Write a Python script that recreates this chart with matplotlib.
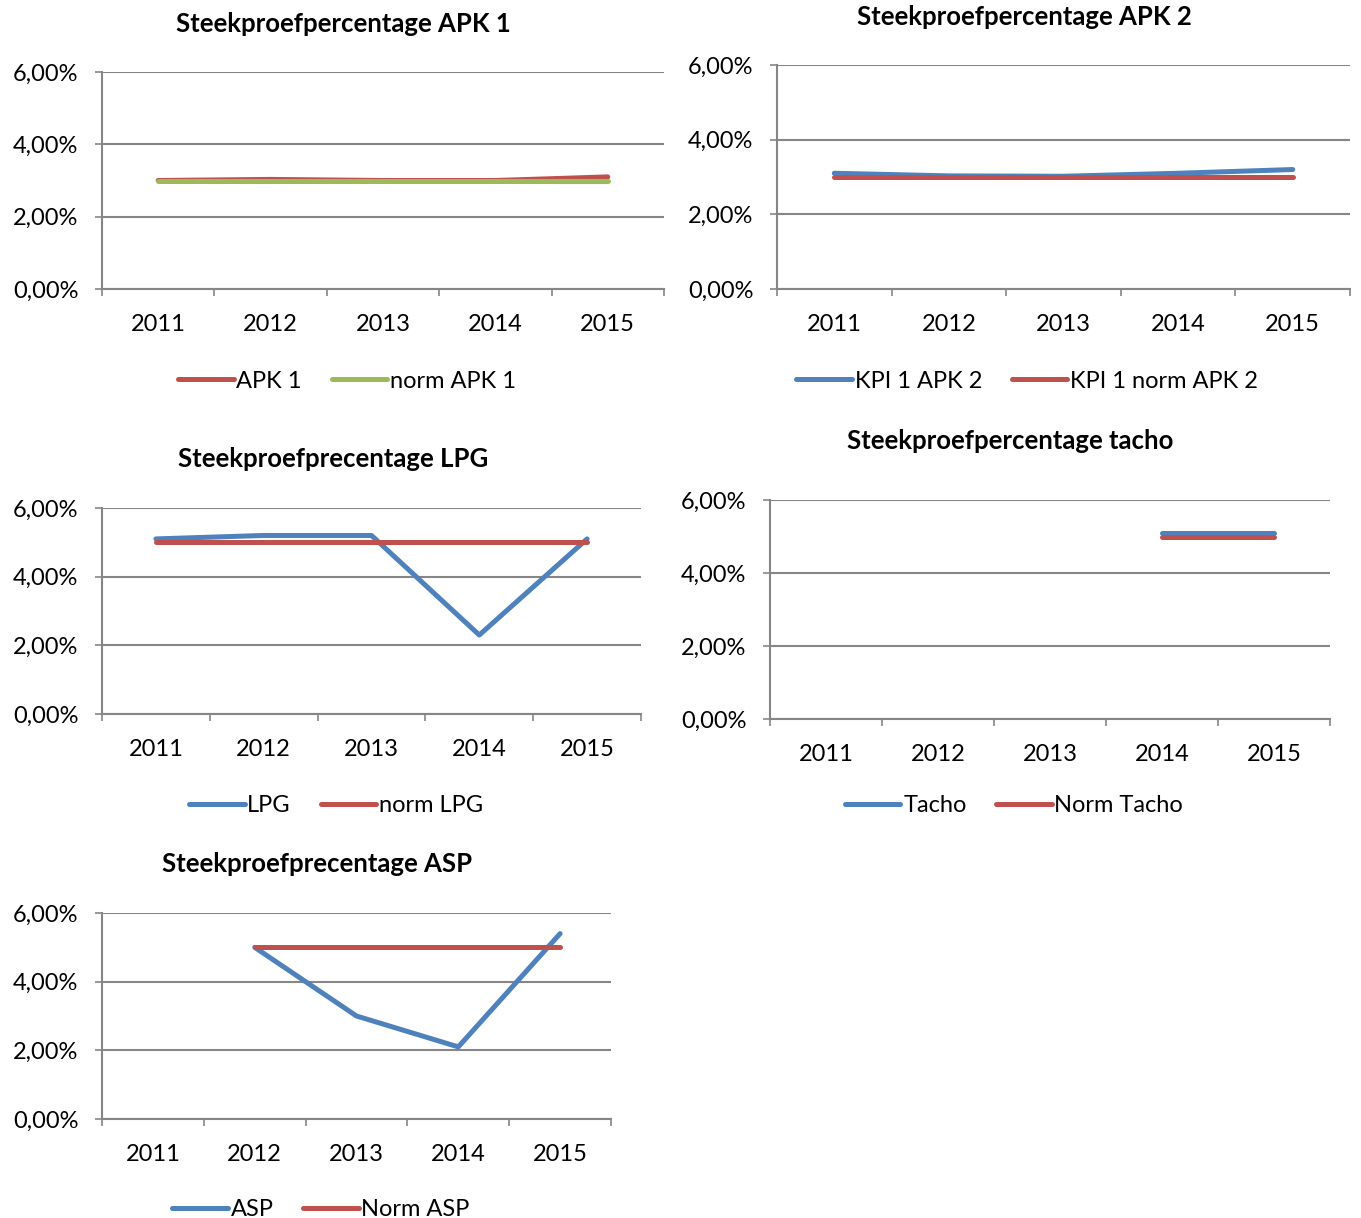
import numpy as np
import matplotlib.pyplot as plt
from matplotlib.lines import Line2D

plt.rcParams['font.family'] = ['Lato', 'DejaVu Sans']

years = ["2011", "2012", "2013", "2014", "2015"]

apk1 = [3.0, 3.03, 3.0, 3.0, 3.1]
norm_apk1 = [3.0, 3.0, 3.0, 3.0, 3.0]

kpi1_apk2 = [3.1, 3.03, 3.02, 3.1, 3.2]
kpi1_norm_apk2 = [3.0, 3.0, 3.0, 3.0, 3.0]

lpg = [5.1, 5.2, 5.2, 2.3, 5.1]
norm_lpg = [5.0, 5.0, 5.0, 5.0, 5.0]

tacho = [np.nan, np.nan, np.nan, 5.1, 5.1]
norm_tacho = [np.nan, np.nan, np.nan, 5.0, 5.0]

asp = [np.nan, 5.0, 3.0, 2.1, 5.4]
norm_asp = [np.nan, 5.0, 5.0, 5.0, 5.0]

y_ticks = [0, 2, 4, 6]
y_labels = ["0,00%", "2,00%", "4,00%", "6,00%"]

RED = "#C0504D"
BLUE = "#4F81BD"
GREEN = "#9BBB59"
GREY = "#868686"

W, H = 1361, 1218
fig = plt.figure(figsize=(W / 100, H / 100), dpi=100)
fig.patch.set_facecolor("white")


def px(x, y):
    return x / W, 1 - y / H


def make_chart(box, title, title_xy, series, legend_xy):
    left, top, right, bottom = box
    ax = fig.add_axes([left / W, 1 - bottom / H, (right - left) / W, (bottom - top) / H])
    x = np.arange(len(years))
    handles = []
    for values, label, color in series:
        ax.plot(x, values, color=color, lw=3.6, solid_capstyle="round",
                solid_joinstyle="round", label=label, zorder=3)
        handles.append(Line2D([], [], color=color, lw=3.6, solid_capstyle="round"))
    ax.set_xlim(-0.5, len(years) - 0.5)
    ax.set_ylim(0, 6)
    ax.set_yticks(y_ticks)
    ax.set_yticklabels(y_labels)
    ax.set_xticks(np.arange(-0.5, len(years)))
    ax.set_xticklabels([])
    ax.set_xticks(x, minor=True)
    ax.set_xticklabels(years, minor=True)
    ax.tick_params(axis="x", which="major", length=5, width=1.2, color=GREY, direction="out")
    ax.tick_params(axis="x", which="minor", length=0, pad=18, labelsize=17)
    ax.tick_params(axis="y", length=5, width=1.2, color=GREY, pad=12, labelsize=17)
    for s in ["top", "right"]:
        ax.spines[s].set_visible(False)
    for s in ["left", "bottom"]:
        ax.spines[s].set_color(GREY)
        ax.spines[s].set_linewidth(1.5)
    ax.grid(axis="y", color=GREY, lw=1.5)
    ax.set_axisbelow(True)
    fig.text(*px(*title_xy), title, ha="center", va="center", fontsize=18.5, fontweight="bold")
    fig.legend(handles, [s[1] for s in series], loc="center", bbox_to_anchor=px(*legend_xy),
               ncol=2, frameon=False, fontsize=17, handlelength=2.35, handletextpad=0.12,
               columnspacing=1.25, borderaxespad=0, borderpad=0)
    return ax


make_chart((102, 72, 664, 289), "Steekproefpercentage APK 1", (343, 24),
           [(apk1, "APK 1", RED), (norm_apk1, "norm APK 1", GREEN)], (347, 381))

make_chart((777, 65, 1350, 289), "Steekproefpercentage APK 2", (1024, 17),
           [(kpi1_apk2, "KPI 1 APK 2", BLUE), (kpi1_norm_apk2, "KPI 1 norm APK 2", RED)],
           (1027, 381))

make_chart((102, 508, 641, 714), "Steekproefprecentage LPG", (333, 459),
           [(lpg, "LPG", BLUE), (norm_lpg, "norm LPG", RED)], (336, 806))

make_chart((770, 500, 1330, 719), "Steekproefpercentage tacho", (1010, 441),
           [(tacho, "Tacho", BLUE), (norm_tacho, "Norm Tacho", RED)], (1014, 806))

make_chart((102, 913, 611, 1119), "Steekproefprecentage ASP", (317, 864),
           [(asp, "ASP", BLUE), (norm_asp, "Norm ASP", RED)], (321, 1210))

fig.savefig("out.png", dpi=100)
